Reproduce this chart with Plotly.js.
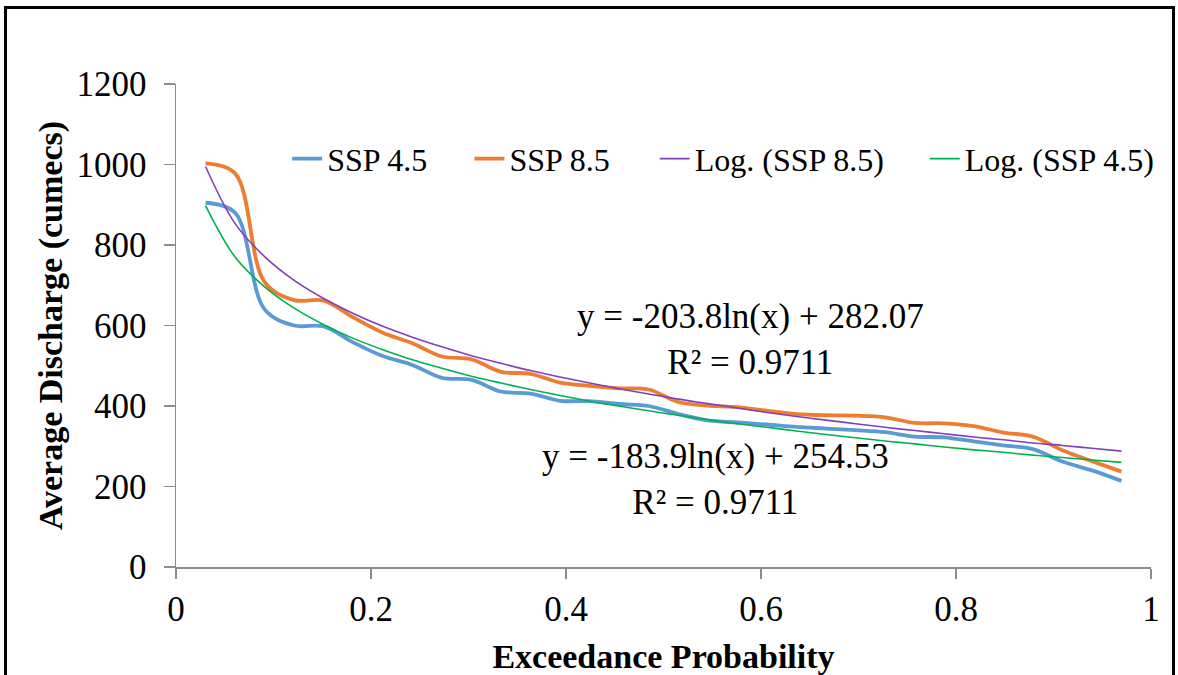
<!DOCTYPE html>
<html>
<head>
<meta charset="utf-8">
<script src="https://cdn.plot.ly/plotly-3.0.1.min.js"></script>
<style>
  html, body { margin: 0; padding: 0; background: #fff; overflow: hidden; }
  #wrap { position: relative; width: 1178px; height: 675px; overflow: hidden; }
  #chart { position: absolute; left: 0; top: 0; width: 1178px; height: 675px; }
  #frame { position: absolute; left: 4px; top: 6px; width: 1171px; height: 700px;
           border: 3px solid #000; box-sizing: border-box; pointer-events: none; }
</style>
</head>
<body>
<div id="wrap">
  <div id="chart"></div>
  <div id="frame"></div>
</div>
<script>
// Exceedance probabilities (x)
const exceedance = [0.0303, 0.0606, 0.0909, 0.1212, 0.1515, 0.1818, 0.2121, 0.2424,
  0.2727, 0.3030, 0.3333, 0.3636, 0.3939, 0.4242, 0.4545, 0.4848,
  0.5152, 0.5455, 0.5758, 0.6061, 0.6364, 0.6667, 0.6970, 0.7273,
  0.7576, 0.7879, 0.8182, 0.8485, 0.8788, 0.9091, 0.9394, 0.9697];

// Average discharge (cumecs)
const ssp45 = [905, 880, 640, 600, 598, 558, 524, 502,
  470, 465, 436, 431, 413, 412, 405, 400,
  380, 364, 359, 354, 348, 344, 340, 335,
  324, 322, 312, 302, 293, 262, 240, 214];

const ssp85 = [1003, 978, 708, 663, 662, 620, 582, 556,
  523, 516, 485, 480, 458, 450, 444, 441,
  410, 401, 397, 388, 380, 377, 376, 372,
  358, 357, 350, 334, 324, 290, 263, 237];

// Logarithmic trendlines as drawn in the picture
const logSsp85 = [995, 853, 771, 712, 667, 630, 598, 571,
  547, 525, 506, 488, 472, 457, 443, 430,
  417, 406, 395, 384, 374, 365, 356, 347,
  339, 331, 323, 316, 308, 302, 295, 288];

const logSsp45 = [898, 770, 696, 643, 602, 568, 540, 515,
  494, 474, 457, 441, 426, 412, 400, 388,
  377, 366, 356, 347, 338, 329, 321, 313,
  306, 298, 291, 285, 278, 272, 266, 260];

const seriesNames = ['SSP 4.5', 'SSP 8.5', 'Log. (SSP 8.5)', 'Log. (SSP 4.5)'];
const eq85 = ['y = -203.8ln(x) + 282.07', 'R² = 0.9711'];
const eq45 = ['y = -183.9ln(x) + 254.53', 'R² = 0.9711'];
const xTicks = [0, 0.2, 0.4, 0.6, 0.8, 1];
const xTickText = ['0', '0.2', '0.4', '0.6', '0.8', '1'];
const yTicks = [0, 200, 400, 600, 800, 1000, 1200];

const FONT = 'Liberation Serif, Times New Roman, serif';

const traces = [
  { x: exceedance, y: ssp45, name: seriesNames[0], mode: 'lines', legend: 'legend',
    line: { color: '#5B9BD5', width: 3.8, shape: 'spline' } },
  { x: exceedance, y: ssp85, name: seriesNames[1], mode: 'lines', legend: 'legend2',
    line: { color: '#ED7D31', width: 3.8, shape: 'spline' } },
  { x: exceedance, y: logSsp85, name: seriesNames[2], mode: 'lines', legend: 'legend3',
    line: { color: '#7F3FBF', width: 1.6, shape: 'spline' } },
  { x: exceedance, y: logSsp45, name: seriesNames[3], mode: 'lines', legend: 'legend4',
    line: { color: '#00B050', width: 1.6, shape: 'spline' } }
];

function leg(x) {
  return { x: x, xanchor: 'left', y: 0.845, yanchor: 'middle', orientation: 'h',
    bgcolor: 'rgba(0,0,0,0)', font: { family: FONT, size: 32, color: '#000' } };
}

function ann(x, y, lines) {
  return { x: x, y: y, xref: 'x', yref: 'y', showarrow: false, text: lines.join('<br>'),
    xanchor: 'center', yanchor: 'middle', align: 'center',
    font: { family: FONT, size: 35, color: '#000' } };
}

const layout = {
  width: 1178, height: 675,
  paper_bgcolor: '#fff', plot_bgcolor: '#fff',
  margin: { l: 176, r: 27, t: 84, b: 108, pad: 0 },
  font: { family: FONT, color: '#000' },
  showlegend: true,
  legend: leg(0.114),
  legend2: leg(0.301),
  legend3: leg(0.491),
  legend4: leg(0.768),
  xaxis: {
    range: [0, 1], tickvals: xTicks, ticktext: xTickText,
    showline: true, linecolor: '#8c8c8c', linewidth: 1.5,
    ticks: 'outside', ticklen: 10, tickcolor: '#8c8c8c', tickwidth: 1.5,
    showgrid: false, zeroline: false,
    tickfont: { family: FONT, size: 35, color: '#000' },
    title: { text: '<b>Exceedance Probability</b>', font: { family: FONT, size: 34, color: '#000' }, standoff: 17 }
  },
  yaxis: {
    range: [0, 1200], tickvals: yTicks,
    showline: true, linecolor: '#8c8c8c', linewidth: 1.5,
    ticks: 'outside', ticklen: 11, tickcolor: '#8c8c8c', tickwidth: 1.5,
    ticklabelstandoff: 10,
    showgrid: false, zeroline: false,
    tickfont: { family: FONT, size: 35, color: '#000' },
    title: { text: '<b>Average Discharge (cumecs)</b>', font: { family: FONT, size: 34, color: '#000' }, standoff: 3 }
  },
  annotations: [
    ann(0.5897, 566, eq85),
    ann(0.5533, 217, eq45)
  ]
};

Plotly.newPlot('chart', traces, layout, { displayModeBar: false, staticPlot: true });
</script>
</body>
</html>
